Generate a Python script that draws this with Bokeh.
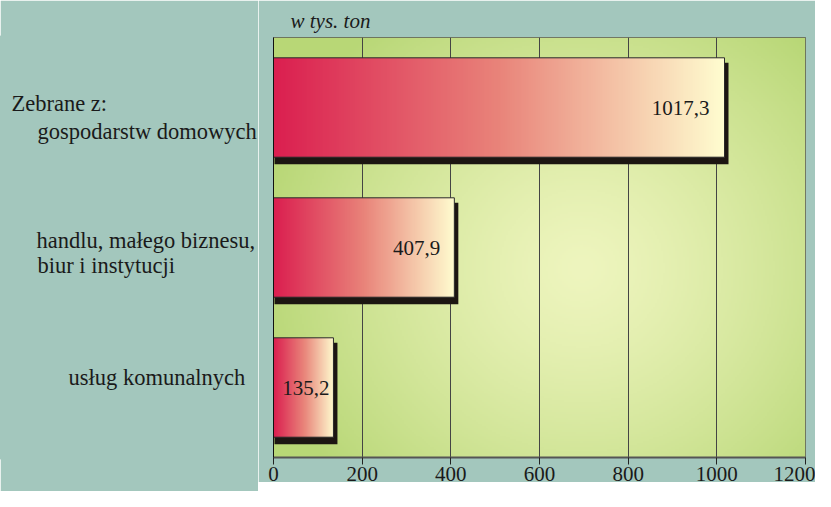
import numpy as np
from bokeh.plotting import figure
from bokeh.layouts import row
from bokeh.models import Range1d, ColumnDataSource, FixedTicker, Title
from bokeh.core.properties import value as pv
from bokeh.embed import file_html
from bokeh.resources import INLINE

# ---------------- data ----------------
category_lines = [
    ["Zebrane z:", "gospodarstw domowych"],
    ["handlu, małego biznesu,", "biur i instytucji"],
    ["usług komunalnych"],
]
values = [1017.3, 407.9, 135.2]
value_labels = ["1017,3", "407,9", "135,2"]
x_ticks = [0, 200, 400, 600, 800, 1000, 1200]
unit_label = "w tys. ton"

# ---------------- style ----------------
FONT = "Liberation Serif"
BG = "#a3c7bd"
X_MAX = 1200
N = len(values)
LEFT_W = 258
MAIN_LEFT = 15
FRAME_W = 532
FRAME_H = 420
TOP = 37
BOTTOM = 34
BAR_H = 0.71
px_x = X_MAX / FRAME_W
px_y = N / FRAME_H

# label line placement (px from left edge of page, px up from category centre)
line_pos = [[(11, 4), (37, -24)], [(36, 7), (37, -18)], [(68, 10)]]
value_offsets = [-15, -14, -4]

y_centers = [N - 0.5 - i for i in range(N)]
y_range = Range1d(0, N)

# ---------------- main chart ----------------
p = figure(output_backend="svg", toolbar_location=None,
           x_range=Range1d(0, X_MAX), y_range=y_range)
p.frame_width = FRAME_W
p.frame_height = FRAME_H
p.min_border_left = MAIN_LEFT
p.min_border_right = 10
p.min_border_top = 33
p.min_border_bottom = 0
p.background_fill_color = BG
p.border_fill_color = BG
p.outline_line_color = "#555555"
p.outline_line_width = 1

# plot-area radial gradient
H, W = 215, 266
yy, xx = np.mgrid[0:H, 0:W]
fx = xx / (W - 1)
fy = yy / (H - 1)
d = np.sqrt(((fx - 0.58) / 0.62) ** 2 + ((fy - 0.45) / 0.75) ** 2)
t = np.clip(d, 0, 1) ** 1.3
inner = np.array([238, 245, 190])
outer = np.array([184, 215, 118])
rgb = inner[None, None, :] * (1 - t[..., None]) + outer[None, None, :] * t[..., None]
bg = np.empty((H, W), dtype=np.uint32)
v = bg.view(dtype=np.uint8).reshape((H, W, 4))
v[..., 0] = rgb[..., 0]
v[..., 1] = rgb[..., 1]
v[..., 2] = rgb[..., 2]
v[..., 3] = 255
p.image_rgba(image=[bg], x=0, y=0, dw=X_MAX, dh=N, level="image")

# grid
p.xgrid.ticker = FixedTicker(ticks=x_ticks)
p.xgrid.grid_line_color = "#444444"
p.xgrid.grid_line_width = 1
p.ygrid.grid_line_color = None

# bars: shadow, gradient fill, outline
tops = [c + BAR_H / 2 for c in y_centers]
bots = [c - BAR_H / 2 for c in y_centers]
src = ColumnDataSource(dict(
    value=values, top=tops, bottom=bots, yc=y_centers,
    sh_left=[1 * px_x] * N,
    sh_right=[val + 4 * px_x for val in values],
    sh_top=[tp - 5 * px_y for tp in tops],
    sh_bottom=[b - 7 * px_y for b in bots],
    zero=[0] * N,
    label=value_labels,
    xoff=value_offsets,
))
p.quad(left="sh_left", right="sh_right", top="sh_top", bottom="sh_bottom", source=src,
       fill_color="#1c1612", line_color=None)

GW = 256
g = np.linspace(0, 1, GW)
stops_t = [0, 0.5, 1]
stops_c = np.array([[219, 31, 80], [233, 132, 122], [255, 253, 208]])
grad = np.empty((1, GW), dtype=np.uint32)
gv = grad.view(dtype=np.uint8).reshape((1, GW, 4))
for k in range(3):
    gv[0, :, k] = np.interp(g, stops_t, stops_c[:, k])
gv[0, :, 3] = 255
img_src = ColumnDataSource(dict(image=[grad] * N, x=[0] * N, y=bots, dw=values, dh=[BAR_H] * N))
p.image_rgba(image="image", x="x", y="y", dw="dw", dh="dh", source=img_src, level="glyph")

p.quad(left="zero", right="value", top="top", bottom="bottom", source=src,
       fill_alpha=0, line_color="#2a2a2a", line_width=1)

p.text(x="value", y="yc", text="label", x_offset="xoff", source=src,
       text_align="right", text_baseline="middle", text_font=pv(FONT),
       text_font_size="21px", text_color="#1a1a1a")

# axes
xa = p.xaxis[0]
xa.ticker = FixedTicker(ticks=x_ticks)
xa.major_label_text_font = FONT
xa.major_label_text_font_size = "21px"
xa.major_label_text_color = "#1a1a1a"
xa.major_label_standoff = 2
xa.major_tick_in = 0
xa.major_tick_out = 7
xa.major_tick_line_color = "#222222"
xa.minor_tick_line_color = None
xa.axis_line_color = "#555555"
xa.axis_line_width = 2

ya = p.yaxis[0]
ya.ticker = FixedTicker(ticks=[])
ya.major_tick_line_color = None
ya.minor_tick_line_color = None
ya.axis_line_color = "#111111"
ya.axis_line_width = 1

p.add_layout(Title(text=unit_label, align="left", offset=17, text_font=FONT,
                   text_font_style="italic", text_font_size="21px",
                   text_color="#1a1a1a"), "above")

# ---------------- category label panel (frame aligned with the chart) ----------------
q = figure(output_backend="svg", toolbar_location=None,
           x_range=Range1d(0, LEFT_W), y_range=y_range)
q.frame_width = LEFT_W
q.frame_height = FRAME_H
q.min_border_left = 0
q.min_border_right = 0
q.min_border_top = TOP
q.min_border_bottom = BOTTOM
q.axis.visible = False
q.grid.visible = False
q.background_fill_color = BG
q.border_fill_color = BG
q.outline_line_color = BG
q.outline_line_width = 4

lx, ly, lt = [], [], []
for i, lines in enumerate(category_lines):
    for j, txt in enumerate(lines):
        dx, dy = line_pos[i][j]
        lx.append(dx)
        ly.append(y_centers[i] + dy * px_y)
        lt.append(txt)
q.text(x=lx, y=ly, text=lt, text_font=pv(FONT), text_font_size="22.5px",
       text_color="#1a1a1a", text_align="left", text_baseline="middle")

layout = row(q, p, spacing=0)
open("out.html", "w").write(file_html(layout, INLINE))
